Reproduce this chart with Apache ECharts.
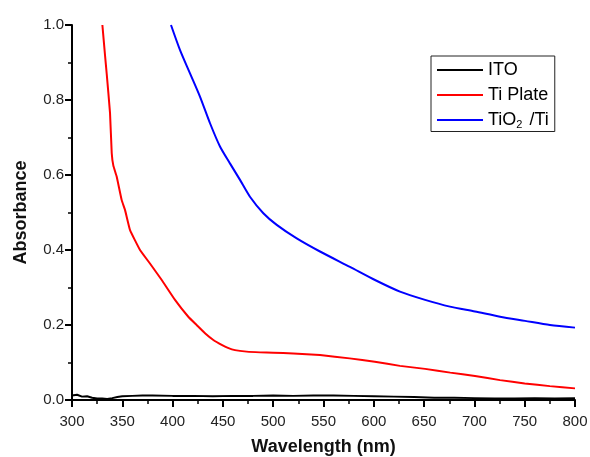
<!DOCTYPE html>
<html>
<head>
<meta charset="utf-8">
<script src="https://cdn.jsdelivr.net/npm/echarts@6/dist/echarts.min.js"></script>
<style>html,body{margin:0;padding:0;background:#fff}#c{width:590px;height:457px}</style>
</head>
<body>
<div id="c"></div>
<script>
// ITO
const itoWl  = [300,305,310,315,320,325,330,335,340,345,350,360,370,380,400,420,440,460,480,500,520,540,560,580,600,620,640,660,680,700,720,740,760,780,800];
const itoAbs = [0.012,0.014,0.009,0.010,0.006,0.004,0.004,0.003,0.005,0.008,0.010,0.011,0.012,0.012,0.011,0.011,0.010,0.011,0.011,0.012,0.011,0.012,0.012,0.011,0.010,0.009,0.008,0.006,0.006,0.005,0.004,0.004,0.005,0.004,0.005];
// Ti Plate
const tiWl  = [330.2,332.8,334.5,337.8,339.5,341.1,344.4,349.4,352.7,357.7,367.6,377.5,389.2,402.4,415.6,423.9,432.2,440.5,448.8,455,462,473.6,486.9,500,520,546.5,576,601,626,651,676,700.6,725.5,750,775,800];
const tiAbs = [1.0,0.92,0.87,0.765,0.658,0.625,0.596,0.533,0.507,0.453,0.400,0.364,0.320,0.267,0.222,0.200,0.178,0.160,0.147,0.139,0.133,0.129,0.127,0.126,0.124,0.120,0.111,0.102,0.091,0.083,0.073,0.064,0.053,0.044,0.037,0.031];
// TiO2 / Ti
const tioWl  = [398.4,407.4,417.3,427.2,437.2,447.1,457,467,476.9,490.2,503.5,523.4,546.5,576.3,601.2,626,651,675.7,700.6,725.5,750.3,775.1,800];
const tioAbs = [1.0,0.933,0.871,0.809,0.738,0.676,0.631,0.587,0.542,0.498,0.467,0.431,0.396,0.355,0.320,0.289,0.267,0.249,0.236,0.222,0.211,0.200,0.193];

const seriesNames = ['ITO', 'Ti Plate', 'TiO2 /Ti'];
const xTicks = [300,350,400,450,500,550,600,650,700,750,800];
const yTicks = [0.0,0.2,0.4,0.6,0.8,1.0];

const pairs = (a, b) => a.map((v, i) => [v, b[i]]);

const chart = echarts.init(document.getElementById('c'), null, {renderer: 'canvas'});
const FONT = 'Liberation Sans, Arial, sans-serif';
const axisCommon = {
  axisLine: {show: true, onZero: false, lineStyle: {color: '#000', width: 2}},
  axisTick: {show: true, inside: false, length: 7, lineStyle: {color: '#000', width: 2}},
  minorTick: {show: true, splitNumber: 2, length: 4, lineStyle: {color: '#000', width: 1.5}},
  splitLine: {show: false},
  minorSplitLine: {show: false},
  nameLocation: 'middle',
  nameTextStyle: {fontFamily: FONT, fontWeight: 'bold', fontSize: 18, color: '#111'}
};
chart.setOption({
  animation: false,
  backgroundColor: '#fff',
  grid: {left: 72, right: 15, top: 25, bottom: 57, containLabel: false, outerBoundsMode: 'none'},
  xAxis: Object.assign({}, axisCommon, {
    type: 'value', min: xTicks[0], max: xTicks[xTicks.length - 1], interval: 50,
    name: 'Wavelength (nm)', nameGap: 38,
    axisLabel: {fontFamily: FONT, fontSize: 15, color: '#222', margin: 14}
  }),
  yAxis: Object.assign({}, axisCommon, {
    type: 'value', min: yTicks[0], max: yTicks[yTicks.length - 1], interval: 0.2,
    name: 'Absorbance', nameGap: 42,
    axisLabel: {fontFamily: FONT, fontSize: 15, color: '#222', margin: 8, formatter: v => v.toFixed(1)}
  }),
  legend: {
    orient: 'vertical', left: 431, top: 56,
    data: seriesNames,
    itemWidth: 46, itemHeight: 18, itemGap: 7,
    padding: [5, 6, 1, 6],
    borderColor: '#222', borderWidth: 1,
    icon: 'path://M0,9L46,9L46,11L0,11Z',
    textStyle: {fontFamily: FONT, fontSize: 18, color: '#000',
      rich: {sub: {fontFamily: FONT, fontSize: 11, color: '#000', verticalAlign: 'bottom', padding: [10, 2, 0, 0]}}},
    formatter: n => n === 'TiO2 /Ti' ? 'TiO{sub|2} /Ti' : n
  },
  series: [
    {name: seriesNames[0], type: 'line', data: pairs(itoWl, itoAbs), showSymbol: false, symbol: 'none',
      lineStyle: {color: '#000', width: 2}, itemStyle: {color: '#000'}},
    {name: seriesNames[1], type: 'line', data: pairs(tiWl, tiAbs), showSymbol: false, symbol: 'none', smooth: 0.1,
      lineStyle: {color: '#ff0000', width: 2}, itemStyle: {color: '#ff0000'}},
    {name: seriesNames[2], type: 'line', data: pairs(tioWl, tioAbs), showSymbol: false, symbol: 'none', smooth: 0.25,
      lineStyle: {color: '#0000ff', width: 2}, itemStyle: {color: '#0000ff'}}
  ]
});
</script>
</body>
</html>
